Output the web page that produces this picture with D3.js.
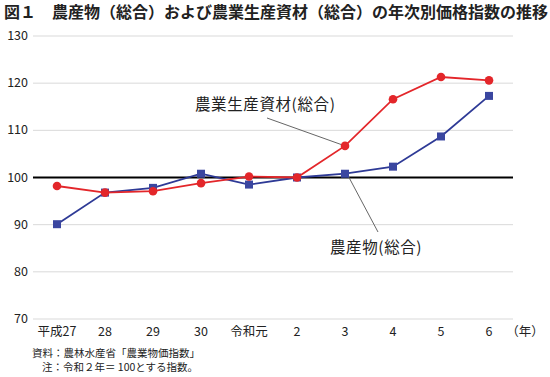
<!DOCTYPE html>
<html>
<head>
<meta charset="utf-8">
<script src="https://cdn.jsdelivr.net/npm/d3@7"></script>
<style>
  body { margin: 0; background: #fff; }
  text { font-family: "Noto Sans CJK JP", sans-serif; }
</style>
</head>
<body>
<script>
let years = ["平成27", "28", "29", "30", "令和元", "2", "3", "4", "5", "6"];
let materials = [98.2, 96.8, 97.1, 98.8, 100.2, 100, 106.7, 116.6, 121.3, 120.6]; // 農業生産資材
let products = [90.1, 96.8, 97.8, 100.8, 98.5, 100, 100.8, 102.3, 108.7, 117.3]; // 農産物
let yTicks = [70, 80, 90, 100, 110, 120, 130];

let w = 550;
let h = 377;

let svg = d3.select("body")
  .append("svg")
  .attr("width", w)
  .attr("height", h);

let xScale = d3.scalePoint()
  .domain(years)
  .range([33, 513])
  .padding(0.5);

let yScale = d3.scaleLinear()
  .domain([70, 130])
  .range([319, 36]);

// title
svg.append("text")
  .attr("x", 4)
  .attr("y", 18)
  .attr("font-size", "16px")
  .attr("font-weight", "bold")
  .attr("fill", "#222")
  .text("図１　農産物（総合）および農業生産資材（総合）の年次別価格指数の推移");

// gridlines
svg.selectAll("line.grid")
  .data(yTicks)
  .enter()
  .append("line")
  .attr("class", "grid")
  .attr("x1", 33)
  .attr("x2", 513)
  .attr("y1", (d) => yScale(d))
  .attr("y2", (d) => yScale(d))
  .attr("stroke", (d) => d === 100 ? "#000" : "#d9d9d9")
  .attr("stroke-width", (d) => d === 100 ? 2 : 1);

// y labels
svg.selectAll("text.ylab")
  .data(yTicks)
  .enter()
  .append("text")
  .attr("class", "ylab")
  .attr("x", 28)
  .attr("y", (d) => yScale(d) + 4)
  .attr("text-anchor", "end")
  .attr("font-size", "12.5px")
  .attr("fill", "#222")
  .text((d) => d);

// x labels
svg.selectAll("text.xlab")
  .data(years)
  .enter()
  .append("text")
  .attr("class", "xlab")
  .attr("x", (d) => xScale(d))
  .attr("y", 336)
  .attr("text-anchor", "middle")
  .attr("font-size", "12.5px")
  .attr("fill", "#222")
  .text((d) => d);

svg.append("text")
  .attr("x", 525)
  .attr("y", 336)
  .attr("text-anchor", "middle")
  .attr("font-size", "12.5px")
  .attr("fill", "#222")
  .text("（年）");

// leader lines
svg.append("line")
  .attr("x1", 267).attr("y1", 118)
  .attr("x2", xScale("3")).attr("y2", yScale(materials[6]))
  .attr("stroke", "#666").attr("stroke-width", 1);
svg.append("line")
  .attr("x1", xScale("3") + 2).attr("y1", yScale(products[6]))
  .attr("x2", 378).attr("y2", 232)
  .attr("stroke", "#666").attr("stroke-width", 1);

let line = d3.line()
  .x((d, i) => xScale(years[i]))
  .y((d) => yScale(d));

// products (blue squares)
svg.append("path")
  .datum(products)
  .attr("d", line)
  .attr("fill", "none")
  .attr("stroke", "#2e3a96")
  .attr("stroke-width", 1.8);

svg.selectAll("rect.pt")
  .data(products)
  .enter()
  .append("rect")
  .attr("class", "pt")
  .attr("x", (d, i) => xScale(years[i]) - 4)
  .attr("y", (d) => yScale(d) - 4)
  .attr("width", 8)
  .attr("height", 8)
  .attr("fill", "#3a46a0");

// materials (red circles)
svg.append("path")
  .datum(materials)
  .attr("d", line)
  .attr("fill", "none")
  .attr("stroke", "#e3262a")
  .attr("stroke-width", 1.8);

svg.selectAll("circle.pt")
  .data(materials)
  .enter()
  .append("circle")
  .attr("class", "pt")
  .attr("cx", (d, i) => xScale(years[i]))
  .attr("cy", (d) => yScale(d))
  .attr("r", 4.3)
  .attr("fill", "#e3262a");

// series labels
svg.append("text")
  .attr("x", 195)
  .attr("y", 110)
  .attr("font-size", "15.5px")
  .attr("letter-spacing", "0.6px")
  .attr("fill", "#222")
  .text("農業生産資材(総合)");

svg.append("text")
  .attr("x", 330)
  .attr("y", 253)
  .attr("font-size", "15.5px")
  .attr("letter-spacing", "0.6px")
  .attr("fill", "#222")
  .text("農産物(総合)");

// notes
svg.append("text")
  .attr("x", 32)
  .attr("y", 357)
  .attr("font-size", "10.5px")
  .attr("fill", "#222")
  .text("資料：農林水産省「農業物価指数」");
svg.append("text")
  .attr("x", 42)
  .attr("y", 371)
  .attr("font-size", "10.5px")
  .attr("fill", "#222")
  .text("注：令和２年＝ 100とする指数。");
</script>
</body>
</html>
